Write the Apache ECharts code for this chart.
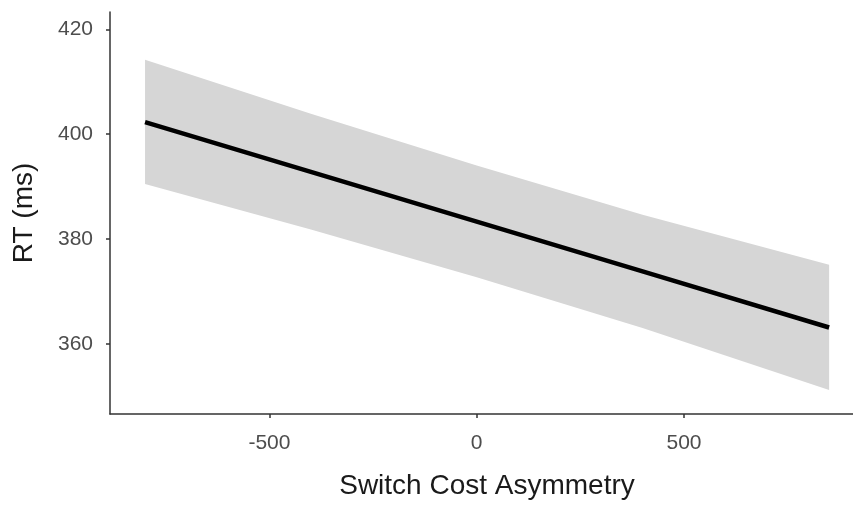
<!DOCTYPE html>
<html><head><meta charset="utf-8">
<script src="https://cdn.jsdelivr.net/npm/echarts@6/dist/echarts.min.js"></script>
<style>html,body{margin:0;padding:0;background:#fff}#c{width:853px;height:505px}</style>
</head><body><div id="c"></div>
<script>
const xValues = [-800, -400, 0, 400, 850];
const fitRT = [402.3, 392.8, 383.3, 373.8, 363.1];
const upperCI = [414.2, 403.9, 394.0, 384.6, 375.1];
const lowerCI = [390.5, 381.8, 372.7, 363.0, 351.2];
const xTicks = [-500, 0, 500];
const yTicks = [360, 380, 400, 420];
const xTitle = 'Switch Cost Asymmetry';
const yTitle = 'RT (ms)';

const FONT = "'Liberation Sans', Arial, sans-serif";
const chart = echarts.init(document.getElementById('c'), null, {renderer: 'canvas'});
chart.setOption({
  animation: false,
  backgroundColor: '#ffffff',
  grid: {left: 110, right: 0, top: 12, bottom: 87, containLabel: false},
  xAxis: {
    type: 'value', min: -884.5, max: 907.6,
    name: xTitle, nameLocation: 'middle', nameGap: 58,
    nameTextStyle: {fontFamily: FONT, fontSize: 28, color: '#1a1a1a', padding: [0, 0, 0, 11]},
    axisLine: {show: true, onZero: false, lineStyle: {color: '#333', width: 1.5}},
    axisTick: {show: true, length: 4, customValues: xTicks, lineStyle: {color: '#333', width: 1.5}},
    axisLabel: {customValues: xTicks, margin: 19, fontFamily: FONT, fontSize: 21, color: '#4d4d4d'},
    splitLine: {show: false}
  },
  yAxis: {
    type: 'value', min: 346.6, max: 423.3,
    name: yTitle, nameLocation: 'middle', nameGap: 72, nameRotate: 90,
    nameTextStyle: {fontFamily: FONT, fontSize: 28, color: '#1a1a1a'},
    axisLine: {show: true, onZero: false, lineStyle: {color: '#333', width: 1.5}},
    axisTick: {show: true, length: 4, customValues: yTicks, lineStyle: {color: '#333', width: 1.5}},
    axisLabel: {customValues: yTicks, margin: 17, fontFamily: FONT, fontSize: 21, color: '#4d4d4d'},
    splitLine: {show: false}
  },
  series: [
    {
      type: 'custom',
      data: xValues.map((x, i) => [x, lowerCI[i], upperCI[i]]),
      encode: {x: 0, y: [1, 2]},
      silent: true,
      renderItem: function (params, api) {
        if (params.dataIndex !== 0) return null;
        const pts = [];
        for (let i = 0; i < xValues.length; i++) pts.push(api.coord([xValues[i], upperCI[i]]));
        for (let i = xValues.length - 1; i >= 0; i--) pts.push(api.coord([xValues[i], lowerCI[i]]));
        return {type: 'polygon', shape: {points: pts}, style: {fill: '#d6d6d6'}};
      },
      z: 1
    },
    {
      type: 'line',
      data: xValues.map((x, i) => [x, fitRT[i]]),
      showSymbol: false, symbol: 'none',
      lineStyle: {color: '#000', width: 4.5, cap: 'butt'},
      silent: true,
      z: 3
    }
  ]
});
</script></body></html>
